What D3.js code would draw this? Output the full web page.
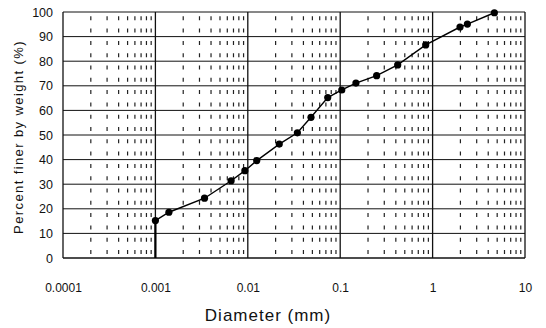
<!DOCTYPE html>
<html>
<head>
<meta charset="utf-8">
<script src="https://cdn.jsdelivr.net/npm/d3@7"></script>
<style>
  body { margin: 0; background: #fff; }
  text { font-family: "Liberation Sans", Arial, sans-serif; fill: #111; }
</style>
</head>
<body>
<svg id="chart" width="546" height="328"></svg>
<script>
// grain size data
const diameters = [0.001, 0.0014, 0.0034, 0.0066, 0.0093, 0.0125, 0.0219, 0.0344, 0.0483,
  0.0733, 0.104, 0.148, 0.248, 0.419, 0.842, 1.98, 2.38, 4.66];
const percentFiner = [15.2, 18.6, 24.3, 31.4, 35.5, 39.6, 46.3, 50.9, 57.2,
  65.2, 68.3, 71.1, 74.1, 78.5, 86.6, 93.9, 95.1, 99.7];
const xTicks = [0.0001, 0.001, 0.01, 0.1, 1, 10];
const xTickLabels = ['0.0001', '0.001', '0.01', '0.1', '1', '10'];
const yTicks = [0, 10, 20, 30, 40, 50, 60, 70, 80, 90, 100];

const margin = { top: 12, right: 21, bottom: 70, left: 63 };
const width = 546 - margin.left - margin.right;
const height = 328 - margin.top - margin.bottom;

const svg = d3.select('#chart');
const g = svg.append('g').attr('transform', `translate(${margin.left},${margin.top})`);

const x = d3.scaleLog().domain([0.0001, 10]).range([0, width]);
const y = d3.scaleLinear().domain([0, 100]).range([height, 0]);

//
// minor vertical grid (dashed)
//
const minor = [];
for (let e = -4; e < 1; e++) {
  for (let k = 2; k <= 9; k++) minor.push(k * Math.pow(10, e));
}
g.selectAll('.minor')
  .data(minor)
  .enter()
  .append('line')
  .attr('class', 'minor')
  .attr('x1', d => x(d)).attr('x2', d => x(d))
  .attr('y1', y(0)).attr('y2', y(100))
  .attr('stroke', '#222')
  .attr('stroke-width', 1.2)
  .attr('stroke-dasharray', '4,8.3')
  .attr('stroke-dashoffset', -4);

//
// horizontal grid
//
g.selectAll('.hgrid')
  .data(yTicks.filter(d => d > 0))
  .enter()
  .append('line')
  .attr('class', 'hgrid')
  .attr('x1', 0).attr('x2', width)
  .attr('y1', d => y(d)).attr('y2', d => y(d))
  .attr('stroke', '#111')
  .attr('stroke-width', 1);

//
// decade lines
//
g.selectAll('.decade')
  .data(xTicks)
  .enter()
  .append('line')
  .attr('class', 'decade')
  .attr('x1', d => x(d)).attr('x2', d => x(d))
  .attr('y1', y(0)).attr('y2', y(100))
  .attr('stroke', '#111')
  .attr('stroke-width', 1.3);

// bottom axis line
g.append('line')
  .attr('x1', 0).attr('x2', width)
  .attr('y1', y(0)).attr('y2', y(0))
  .attr('stroke', '#111').attr('stroke-width', 1.3);

//
// axes labels
//
const xAxis = d3.axisBottom(x)
  .tickValues(xTicks)
  .tickFormat((d, i) => xTickLabels[i])
  .tickSize(0)
  .tickPadding(25);
g.append('g')
  .attr('transform', `translate(0,${height})`)
  .call(xAxis)
  .call(a => a.select('.domain').remove())
  .selectAll('text')
  .style('font-size', '12px')
  .style('font-family', '"Liberation Sans", Arial, sans-serif')
  .attr('fill', '#111');

const yAxis = d3.axisLeft(y)
  .tickValues(yTicks)
  .tickSize(0)
  .tickPadding(10);
g.append('g')
  .call(yAxis)
  .call(a => a.select('.domain').remove())
  .selectAll('text')
  .style('font-size', '12.5px')
  .style('font-family', '"Liberation Sans", Arial, sans-serif')
  .attr('fill', '#111');

svg.append('text')
  .attr('x', 268)
  .attr('y', 321)
  .attr('text-anchor', 'middle')
  .style('font-size', '17px')
  .style('letter-spacing', '1px')
  .text('Diameter (mm)');

svg.append('text')
  .attr('transform', `translate(23,${margin.top + height / 2 + 2}) rotate(-90)`)
  .attr('text-anchor', 'middle')
  .style('font-size', '13px')
  .style('letter-spacing', '1.4px')
  .text('Percent finer by weight (%)');

//
// curve
//
const pts = diameters.map((d, i) => ({ d: d, p: percentFiner[i] }));

g.append('line')
  .attr('x1', x(diameters[0])).attr('x2', x(diameters[0]))
  .attr('y1', y(percentFiner[0])).attr('y2', y(0))
  .attr('stroke', '#000').attr('stroke-width', 2.2);

g.append('path')
  .datum(pts)
  .attr('fill', 'none')
  .attr('stroke', '#000')
  .attr('stroke-width', 1.4)
  .attr('d', d3.line().x(d => x(d.d)).y(d => y(d.p)));

g.selectAll('circle')
  .data(pts)
  .enter()
  .append('circle')
  .attr('cx', d => x(d.d))
  .attr('cy', d => y(d.p))
  .attr('r', 3.6)
  .attr('fill', '#000');
</script>
</body>
</html>
